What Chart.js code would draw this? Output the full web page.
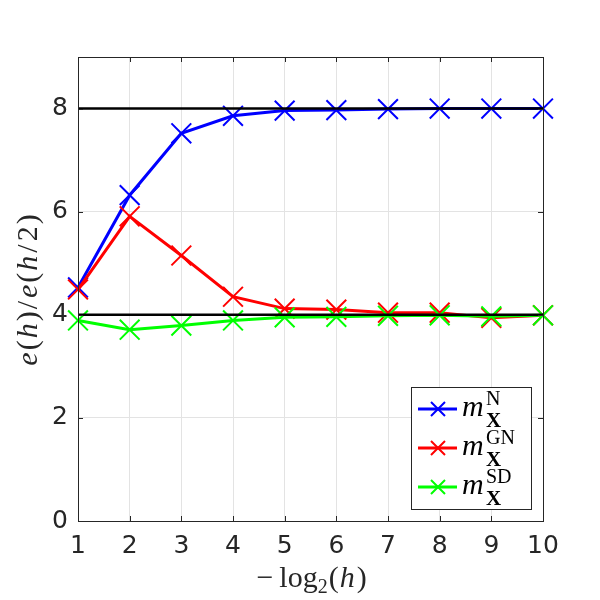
<!DOCTYPE html>
<html>
<head>
<meta charset="utf-8">
<script src="https://cdn.jsdelivr.net/npm/chart.js@4.4.1/dist/chart.umd.min.js"></script>
<style>
    body { margin: 0; background: #fff; }
    #wrap { width: 600px; height: 600px; }
</style>
</head>
<body>
<div id="wrap"><canvas id="ratioChart" width="600" height="600"></canvas></div>
<script>
// data
const levels = [1, 2, 3, 4, 5, 6, 7, 8, 9, 10];
const ratioN  = [4.53, 6.32, 7.52, 7.86, 7.96, 7.97, 7.99, 8.00, 8.00, 8.00];
const ratioGN = [4.49, 5.91, 5.15, 4.35, 4.12, 4.10, 4.04, 4.04, 3.94, 3.99];
const ratioSD = [3.89, 3.71, 3.79, 3.89, 3.95, 3.96, 3.98, 3.99, 3.97, 3.99];
const refLevels = [4, 8];
const yTicks = [0, 2, 4, 6, 8];
const seriesNames = ['N', 'GN', 'SD'];

const AXIS_COLOR = '#262626';
const SERIF = '"Liberation Serif", "DejaVu Serif", serif';

function toPoints(values) {
    return values.map((v, i) => ({ x: levels[i], y: v }));
}

function seriesDataset(values, color, order) {
    return {
        data: toPoints(values),
        borderColor: color,
        backgroundColor: color,
        borderWidth: 3,
        pointStyle: 'crossRot',
        pointRadius: 14,
        pointBorderWidth: 2,
        pointHoverRadius: 14,
        clip: false,
        order: order
    };
}

function refDataset(level) {
    return {
        data: [{ x: levels[0], y: level }, { x: levels[levels.length - 1], y: level }],
        borderColor: '#000',
        borderWidth: 2.5,
        pointRadius: 0,
        order: 0
    };
}

// draws a row of text pieces with mixed fonts; each piece may carry extra space after it
function drawPieces(ctx, pieces, cx, baseline) {
    let total = 0;
    pieces.forEach(p => {
        ctx.font = p.font;
        p.w = ctx.measureText(p.t).width;
        total += p.w + (p.gap || 0);
    });
    let x = cx - total / 2;
    ctx.textAlign = 'left';
    ctx.textBaseline = 'alphabetic';
    pieces.forEach(p => {
        ctx.font = p.font;
        ctx.fillText(p.t, x, baseline + (p.dy || 0));
        x += p.w + (p.gap || 0);
    });
}

const frameAndLabels = {
    id: 'frameAndLabels',
    afterDraw(chart) {
        const ctx = chart.ctx;
        const a = chart.chartArea;
        const xs = chart.scales.x;
        const ys = chart.scales.y;
        ctx.save();

        // axes box with inward ticks
        ctx.strokeStyle = AXIS_COLOR;
        ctx.lineWidth = 1;
        ctx.strokeRect(a.left + 0.5, a.top + 0.5, a.right - a.left, a.bottom - a.top);
        ctx.beginPath();
        levels.forEach(v => {
            const px = Math.round(xs.getPixelForValue(v)) + 0.5;
            ctx.moveTo(px, a.bottom); ctx.lineTo(px, a.bottom - 5);
            ctx.moveTo(px, a.top); ctx.lineTo(px, a.top + 5);
        });
        yTicks.forEach(v => {
            const py = Math.round(ys.getPixelForValue(v)) + 0.5;
            ctx.moveTo(a.left, py); ctx.lineTo(a.left + 5, py);
            ctx.moveTo(a.right, py); ctx.lineTo(a.right - 5, py);
        });
        ctx.stroke();

        // axis titles
        ctx.fillStyle = AXIS_COLOR;
        const up = '30px ' + SERIF;
        const it = 'italic 30px ' + SERIF;
        drawPieces(ctx, [
            { t: '\u2212', font: up, gap: 6 },
            { t: 'log', font: up },
            { t: '2', font: '20px ' + SERIF, dy: 6, gap: 1 },
            { t: '(', font: up, gap: 1 },
            { t: 'h', font: it, gap: 2 },
            { t: ')', font: up }
        ], (a.left + a.right) / 2 + 1, 587);

        ctx.save();
        ctx.translate(37, (a.top + a.bottom) / 2 + 1);
        ctx.rotate(-Math.PI / 2);
        drawPieces(ctx, [
            { t: 'e', font: it, gap: 2 }, { t: '(', font: up, gap: 2 }, { t: 'h', font: it, gap: 2 },
            { t: ')', font: up, gap: 2 }, { t: '/', font: up, gap: 3 },
            { t: 'e', font: it, gap: 2 }, { t: '(', font: up, gap: 2 }, { t: 'h', font: it, gap: 3 },
            { t: '/', font: up, gap: 3 }, { t: '2', font: up, gap: 2 }, { t: ')', font: up }
        ], 0, 0);
        ctx.restore();

        // legend
        const box = { left: 411, top: 387, right: 531, bottom: 509 };
        ctx.fillStyle = '#fff';
        ctx.fillRect(box.left, box.top, box.right - box.left, box.bottom - box.top);
        ctx.strokeStyle = AXIS_COLOR;
        ctx.strokeRect(box.left + 0.5, box.top + 0.5, box.right - box.left, box.bottom - box.top);

        const rowY = [409, 448, 487];
        chart.data.datasets.slice(0, 3).forEach((ds, i) => {
            const y = rowY[i];
            ctx.strokeStyle = ds.borderColor;
            ctx.lineWidth = 3;
            ctx.beginPath();
            ctx.moveTo(418, y); ctx.lineTo(457, y);
            ctx.stroke();
            ctx.lineWidth = 2;
            ctx.beginPath();
            const r = 7;
            ctx.moveTo(438 - r, y - r); ctx.lineTo(438 + r, y + r);
            ctx.moveTo(438 - r, y + r); ctx.lineTo(438 + r, y - r);
            ctx.stroke();

            ctx.fillStyle = '#000';
            ctx.textAlign = 'left';
            ctx.textBaseline = 'alphabetic';
            ctx.font = 'italic 30px ' + SERIF;
            ctx.fillText('m', 462, y + 7);
            ctx.font = '20px ' + SERIF;
            ctx.fillText(seriesNames[i], 486, y - 4);
            ctx.font = 'bold 21px ' + SERIF;
            ctx.fillText('X', 486, y + 18);
        });
        ctx.restore();
    }
};

const chart = new Chart(document.getElementById('ratioChart'), {
    type: 'line',
    data: {
        datasets: [
            seriesDataset(ratioN, '#0000ff', 3),
            seriesDataset(ratioGN, '#ff0000', 2),
            seriesDataset(ratioSD, '#00ff00', 1),
            ...refLevels.map(refDataset)
        ]
    },
    options: {
        responsive: false,
        animation: false,
        layout: { padding: { top: 57, right: 57, left: 0, bottom: 0 } },
        plugins: {
            legend: { display: false },
            tooltip: { enabled: false }
        },
        scales: {
            x: {
                type: 'linear',
                min: 1,
                max: 10,
                afterBuildTicks: scale => { scale.ticks = levels.map(v => ({ value: v })); },
                afterFit: scale => { scale.height = 79; },
                ticks: {
                    color: AXIS_COLOR,
                    font: { family: '"DejaVu Sans"', size: 25 },
                    padding: 10,
                    maxRotation: 0
                },
                grid: { color: '#e3e3e3', drawTicks: false },
                border: { display: false }
            },
            y: {
                min: 0,
                max: 9,
                afterBuildTicks: scale => { scale.ticks = yTicks.map(v => ({ value: v })); },
                afterFit: scale => { scale.width = 78; },
                ticks: {
                    color: AXIS_COLOR,
                    font: { family: '"DejaVu Sans"', size: 25 },
                    padding: 10
                },
                grid: { color: '#e3e3e3', drawTicks: false },
                border: { display: false }
            }
        }
    },
    plugins: [frameAndLabels]
});
</script>
</body>
</html>
